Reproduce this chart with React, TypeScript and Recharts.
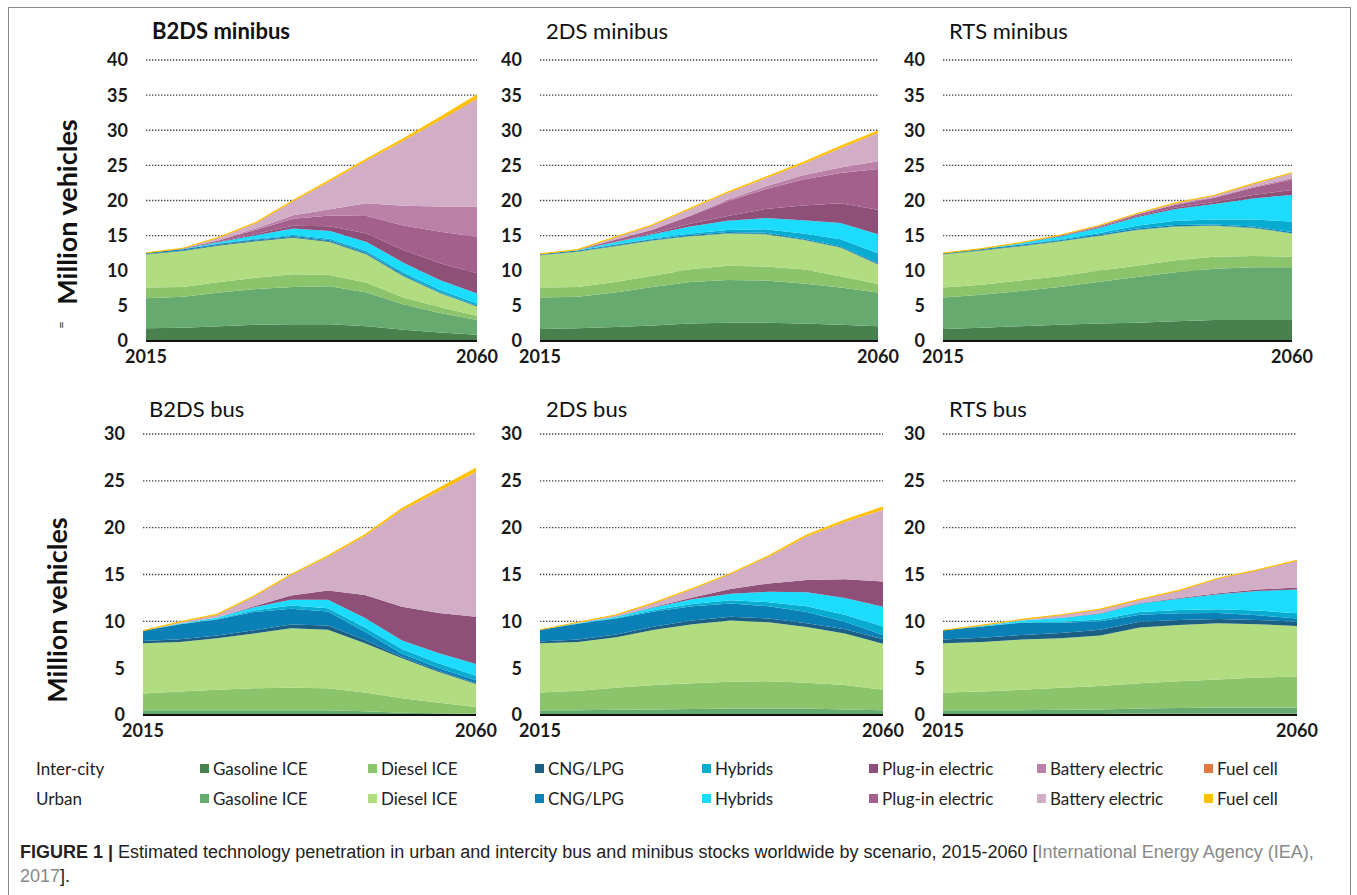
import { AreaChart, Area, XAxis, YAxis, CartesianGrid } from 'recharts';

const YEARS = [2015, 2020, 2025, 2030, 2035, 2040, 2045, 2050, 2055, 2060];

// stacking order, bottom to top: inter-city then urban for each technology
const SERIES_KEYS = [
  'icGas', 'uGas', 'icDiesel', 'uDiesel', 'icCng', 'uCng', 'icHyb', 'uHyb',
  'icPhev', 'uPhev', 'icBev', 'uBev', 'icFc', 'uFc',
];
const TECH_LABELS = ['Gasoline ICE', 'Diesel ICE', 'CNG/LPG', 'Hybrids', 'Plug-in electric', 'Battery electric', 'Fuel cell'];

// million vehicles, one row per series (same order as SERIES_KEYS)
const B2DS_MINIBUS = [
  [1.8, 1.9, 2.1, 2.3, 2.4, 2.4, 2.1, 1.6, 1.2, 0.9],
  [4.3, 4.4, 4.8, 5.1, 5.3, 5.4, 4.8, 3.6, 2.8, 2.1],
  [1.5, 1.4, 1.5, 1.6, 1.8, 1.6, 1.4, 1.0, 0.8, 0.6],
  [4.7, 5.1, 5.2, 5.2, 5.2, 4.7, 4.0, 3.0, 2.0, 1.3],
  [0.1, 0.1, 0.1, 0.1, 0.1, 0.1, 0.1, 0.1, 0.05, 0.05],
  [0.15, 0.15, 0.15, 0.15, 0.15, 0.15, 0.15, 0.15, 0.1, 0.1],
  [0, 0, 0.05, 0.1, 0.15, 0.2, 0.25, 0.3, 0.3, 0.3],
  [0, 0.05, 0.2, 0.5, 0.9, 1.1, 1.3, 1.4, 1.4, 1.4],
  [0, 0, 0.05, 0.2, 0.4, 0.7, 1.2, 1.8, 2.4, 2.9],
  [0, 0.05, 0.2, 0.6, 1.0, 1.5, 2.5, 3.5, 4.5, 5.2],
  [0, 0, 0.05, 0.2, 0.5, 0.9, 1.8, 2.8, 3.6, 4.3],
  [0, 0.05, 0.35, 0.75, 2.0, 4.0, 6.1, 9.25, 12.25, 15.25],
  [0, 0, 0, 0, 0, 0, 0, 0, 0.05, 0.1],
  [0, 0, 0.05, 0.1, 0.1, 0.15, 0.2, 0.3, 0.4, 0.5],
];

const DS2_MINIBUS = [
  [1.7, 1.8, 2.0, 2.2, 2.5, 2.6, 2.6, 2.5, 2.3, 2.1],
  [4.5, 4.5, 4.9, 5.5, 5.9, 6.1, 6.0, 5.7, 5.3, 4.8],
  [1.4, 1.4, 1.5, 1.6, 1.8, 2.0, 2.0, 2.0, 1.6, 1.2],
  [4.6, 5.0, 5.1, 5.0, 4.7, 4.6, 4.6, 4.2, 4.1, 2.8],
  [0.05, 0.05, 0.05, 0.05, 0.05, 0.05, 0.05, 0.05, 0.05, 0.05],
  [0.15, 0.15, 0.15, 0.15, 0.15, 0.15, 0.15, 0.15, 0.15, 0.15],
  [0, 0, 0.05, 0.1, 0.2, 0.3, 0.5, 0.7, 1.0, 1.4],
  [0, 0.05, 0.3, 0.6, 1.0, 1.3, 1.6, 1.9, 2.3, 2.7],
  [0, 0, 0.05, 0.15, 0.4, 0.7, 1.3, 2.1, 2.8, 3.5],
  [0, 0.05, 0.3, 0.5, 1.1, 2.1, 2.8, 3.7, 4.3, 5.8],
  [0, 0, 0, 0.05, 0.1, 0.2, 0.4, 0.6, 0.8, 1.1],
  [0, 0, 0.35, 0.6, 0.9, 1.0, 1.15, 1.6, 2.75, 4.0],
  [0, 0, 0, 0, 0, 0, 0, 0, 0, 0],
  [0, 0, 0.05, 0.05, 0.1, 0.1, 0.15, 0.2, 0.25, 0.3],
];

const RTS_MINIBUS = [
  [1.7, 1.9, 2.1, 2.3, 2.5, 2.6, 2.8, 3.0, 3.0, 3.0],
  [4.5, 4.7, 5.0, 5.4, 5.9, 6.5, 7.0, 7.3, 7.5, 7.5],
  [1.4, 1.4, 1.5, 1.5, 1.6, 1.6, 1.7, 1.7, 1.6, 1.5],
  [4.7, 4.9, 4.9, 4.95, 4.95, 5.1, 4.8, 4.4, 4.0, 3.3],
  [0.05, 0.05, 0.05, 0.05, 0.05, 0.05, 0.05, 0.05, 0.05, 0.05],
  [0.15, 0.15, 0.15, 0.15, 0.15, 0.15, 0.15, 0.15, 0.15, 0.15],
  [0, 0, 0.05, 0.1, 0.2, 0.4, 0.6, 0.7, 1.0, 1.5],
  [0, 0.05, 0.2, 0.4, 0.7, 1.2, 1.7, 2.2, 3.0, 3.8],
  [0, 0, 0, 0.05, 0.1, 0.15, 0.2, 0.3, 0.5, 0.7],
  [0, 0, 0.05, 0.1, 0.15, 0.25, 0.4, 0.6, 1.0, 1.5],
  [0, 0, 0, 0, 0.05, 0.05, 0.1, 0.1, 0.15, 0.2],
  [0, 0, 0, 0.05, 0.05, 0.1, 0.15, 0.25, 0.45, 0.7],
  [0, 0, 0, 0, 0, 0, 0, 0, 0, 0],
  [0, 0, 0, 0, 0, 0, 0, 0, 0, 0.05],
];

const B2DS_BUS = [
  [0.1, 0.1, 0.1, 0.1, 0.1, 0.1, 0.1, 0.05, 0.05, 0.05],
  [0.4, 0.4, 0.4, 0.4, 0.4, 0.4, 0.3, 0.2, 0.15, 0.1],
  [1.8, 2.0, 2.2, 2.35, 2.4, 2.35, 2.0, 1.55, 1.1, 0.7],
  [5.35, 5.3, 5.5, 5.85, 6.35, 6.25, 5.25, 4.25, 3.3, 2.45],
  [0.25, 0.3, 0.3, 0.35, 0.4, 0.45, 0.35, 0.15, 0.1, 0.1],
  [1.1, 1.6, 1.7, 1.95, 1.7, 1.5, 0.9, 0.35, 0.3, 0.3],
  [0, 0.02, 0.05, 0.15, 0.35, 0.35, 0.45, 0.5, 0.5, 0.5],
  [0, 0.05, 0.15, 0.35, 0.6, 0.9, 1.0, 0.9, 1.1, 1.25],
  [0, 0, 0.02, 0.1, 0.45, 1.0, 2.45, 3.6, 4.3, 5.05],
  [0, 0, 0, 0, 0, 0, 0, 0, 0, 0],
  [0, 0, 0, 0, 0, 0, 0, 0, 0, 0],
  [0, 0.15, 0.28, 1.05, 2.2, 3.6, 6.3, 10.3, 13.0, 15.45],
  [0, 0, 0, 0, 0, 0, 0, 0, 0, 0],
  [0, 0.03, 0.05, 0.05, 0.05, 0.1, 0.15, 0.2, 0.3, 0.4],
];

const DS2_BUS = [
  [0.1, 0.1, 0.1, 0.1, 0.1, 0.1, 0.1, 0.1, 0.1, 0.1],
  [0.4, 0.4, 0.45, 0.5, 0.55, 0.6, 0.6, 0.6, 0.5, 0.4],
  [1.9, 2.1, 2.35, 2.6, 2.75, 2.85, 2.9, 2.75, 2.6, 2.2],
  [5.25, 5.2, 5.4, 5.9, 6.3, 6.55, 6.3, 5.95, 5.5, 4.9],
  [0.2, 0.25, 0.3, 0.35, 0.4, 0.4, 0.4, 0.4, 0.45, 0.5],
  [1.25, 1.7, 1.7, 1.6, 1.5, 1.4, 1.3, 1.2, 0.8, 0.45],
  [0, 0.02, 0.05, 0.15, 0.25, 0.35, 0.45, 0.6, 0.75, 0.9],
  [0, 0.05, 0.15, 0.3, 0.5, 0.7, 1.1, 1.5, 1.8, 2.1],
  [0, 0, 0.02, 0.05, 0.2, 0.5, 0.9, 1.3, 2.0, 2.7],
  [0, 0, 0, 0, 0, 0, 0, 0, 0, 0],
  [0, 0, 0, 0, 0, 0, 0, 0, 0, 0],
  [0, 0.06, 0.15, 0.4, 0.9, 1.6, 2.85, 4.65, 6.1, 7.65],
  [0, 0, 0, 0, 0, 0, 0, 0, 0, 0],
  [0, 0.02, 0.03, 0.05, 0.05, 0.05, 0.1, 0.15, 0.2, 0.3],
];

const RTS_BUS = [
  [0.1, 0.1, 0.1, 0.1, 0.1, 0.15, 0.15, 0.15, 0.15, 0.15],
  [0.4, 0.4, 0.4, 0.45, 0.5, 0.55, 0.6, 0.65, 0.65, 0.65],
  [1.9, 2.0, 2.2, 2.35, 2.5, 2.7, 2.85, 3.0, 3.2, 3.3],
  [5.25, 5.3, 5.35, 5.3, 5.4, 5.95, 6.0, 6.0, 5.7, 5.4],
  [0.4, 0.45, 0.5, 0.55, 0.6, 0.6, 0.55, 0.45, 0.45, 0.45],
  [1.0, 1.2, 1.3, 1.1, 0.9, 0.75, 0.7, 0.65, 0.5, 0.35],
  [0, 0.02, 0.05, 0.1, 0.2, 0.3, 0.35, 0.4, 0.5, 0.55],
  [0, 0.05, 0.2, 0.4, 0.6, 0.9, 1.2, 1.6, 2.1, 2.55],
  [0, 0, 0, 0.02, 0.05, 0.05, 0.1, 0.1, 0.15, 0.2],
  [0, 0, 0, 0, 0, 0, 0, 0, 0, 0],
  [0, 0, 0, 0, 0, 0, 0, 0, 0, 0],
  [0, 0.08, 0.1, 0.33, 0.45, 0.4, 0.8, 1.6, 2.1, 2.9],
  [0, 0, 0, 0, 0, 0, 0, 0, 0, 0],
  [0, 0, 0, 0, 0, 0, 0, 0, 0, 0],
];

const MINIBUS_TICKS = [0, 5, 10, 15, 20, 25, 30, 35, 40];
const BUS_TICKS = [0, 5, 10, 15, 20, 25, 30];

const COLORS = [
  '#48804e', '#66aa6f', '#8bc46a', '#b1dc80', '#1b5f85', '#0b80b6', '#07acd0', '#1cdcfd',
  '#8e4f79', '#a4608c', '#bb80a8', '#d1adc6', '#e07a40', '#ffc000',
];

const FONT = 'Lato, "Open Sans", sans-serif';

const buildRows = (values: number[][]) =>
  YEARS.map((year, i) => {
    const row: Record<string, number> = { year };
    SERIES_KEYS.forEach((k, s) => {
      row[k] = values[s][i];
    });
    return row;
  });

type PanelProps = {
  title: string;
  bold?: boolean;
  values: number[][];
  ticks: number[];
  plotLeft: number;
  plotRight: number;
  plotTop: number;
  plotBottom: number;
};

const Y_W = 60;
const M_TOP = 14;
const M_RIGHT = 30;
const X_H = 34;

const Panel = ({ title, bold, values, ticks, plotLeft, plotRight, plotTop, plotBottom }: PanelProps) => {
  const left = plotLeft - Y_W;
  const top = plotTop - M_TOP;
  const width = plotRight - left + M_RIGHT;
  const height = plotBottom - top + X_H;
  const tickStyle = { fontFamily: FONT, fontSize: 18, fontWeight: 700, fill: '#1a1a1a' };
  return (
    <>
      <div
        style={{
          position: 'absolute',
          left: plotLeft + 6,
          top: plotTop - (ticks.length === 9 ? 43 : 39),
          fontFamily: FONT,
          fontSize: 22,
          fontWeight: bold ? 700 : 400,
          color: '#111',
          whiteSpace: 'nowrap',
        }}
      >
        {title}
      </div>
      <div style={{ position: 'absolute', left, top }}>
        <AreaChart width={width} height={height} data={buildRows(values)} margin={{ top: M_TOP, right: M_RIGHT, bottom: 0, left: 0 }}>
          <CartesianGrid vertical={false} stroke="#444" strokeWidth={1.3} strokeDasharray="1.4 1.6" />
          <XAxis
            dataKey="year"
            type="number"
            domain={[2015, 2060]}
            ticks={[2015, 2060]}
            interval={0}
            height={X_H}
            tickSize={0}
            tickMargin={9}
            tickLine={false}
            axisLine={{ stroke: '#111', strokeWidth: 2 }}
            tick={tickStyle}
          />
          <YAxis
            width={Y_W}
            domain={[0, ticks[ticks.length - 1]]}
            ticks={ticks}
            interval={0}
            tickSize={0}
            tickMargin={18}
            tickLine={false}
            axisLine={false}
            tick={tickStyle}
          />
          {SERIES_KEYS.map((k, i) => (
            <Area
              key={k}
              type="linear"
              dataKey={k}
              stackId="a"
              fill={COLORS[i]}
              fillOpacity={1}
              stroke={k === 'uFc' ? COLORS[i] : 'none'}
              strokeWidth={k === 'uFc' ? 1.2 : 0}
              dot={false}
              activeDot={false}
              isAnimationActive={false}
            />
          ))}
        </AreaChart>
      </div>
    </>
  );
};

const YLabel = ({ x, y }: { x: number; y: number }) => (
  <div
    style={{
      position: 'absolute',
      left: x,
      top: y,
      transform: 'translate(-50%, -50%) rotate(-90deg)',
      fontFamily: FONT,
      fontSize: 27,
      fontWeight: 700,
      color: '#111',
      whiteSpace: 'nowrap',
    }}
  >
    Million vehicles
  </div>
);

const LEGEND_X = [200, 368, 535, 702, 869, 1037, 1204];

const LegendRow = ({ label, y, offset }: { label: string; y: number; offset: number }) => (
  <>
    <div style={{ position: 'absolute', left: 36, top: y - 11, fontFamily: FONT, fontSize: 17, color: '#222' }}>{label}</div>
    {TECH_LABELS.map((t, i) => (
      <div key={t} style={{ position: 'absolute', left: LEGEND_X[i], top: y - 11, display: 'flex', alignItems: 'center', fontFamily: FONT, fontSize: 17, color: '#222', whiteSpace: 'nowrap' }}>
        <span style={{ width: 9, height: 9, background: COLORS[i * 2 + offset], marginRight: 4, display: 'inline-block' }} />
        {t}
      </div>
    ))}
  </>
);

export default function App() {
  return (
    <div style={{ position: 'absolute', left: 0, top: 0, width: 1357, height: 895, background: '#fff', overflow: 'hidden' }}>
      <div style={{ position: 'absolute', left: 8, top: 7, width: 1341, height: 900, border: '1px solid #8a8a8a' }} />

      <Panel title="B2DS minibus" bold values={B2DS_MINIBUS} ticks={MINIBUS_TICKS} plotLeft={146} plotRight={477} plotTop={60} plotBottom={341} />
      <Panel title="2DS minibus" values={DS2_MINIBUS} ticks={MINIBUS_TICKS} plotLeft={540} plotRight={878} plotTop={60} plotBottom={341} />
      <Panel title="RTS minibus" values={RTS_MINIBUS} ticks={MINIBUS_TICKS} plotLeft={943} plotRight={1292} plotTop={60} plotBottom={341} />
      <Panel title="B2DS bus" values={B2DS_BUS} ticks={BUS_TICKS} plotLeft={143} plotRight={476} plotTop={434} plotBottom={715} />
      <Panel title="2DS bus" values={DS2_BUS} ticks={BUS_TICKS} plotLeft={540} plotRight={883} plotTop={434} plotBottom={715} />
      <Panel title="RTS bus" values={RTS_BUS} ticks={BUS_TICKS} plotLeft={943} plotRight={1297} plotTop={434} plotBottom={715} />

      <YLabel x={66} y={212} />
      <div style={{ position: 'absolute', left: 61, top: 325, transform: 'translate(-50%, -50%) rotate(-90deg)', fontFamily: FONT, fontSize: 13, color: '#333' }}>=</div>
      <YLabel x={56} y={610} />

      <LegendRow label="Inter-city" y={769} offset={0} />
      <LegendRow label="Urban" y={799} offset={1} />

      <div style={{ position: 'absolute', left: 20, top: 840, fontFamily: '"Liberation Sans", Arial, sans-serif', fontSize: 18, lineHeight: '24px', color: '#222', whiteSpace: 'nowrap' }}>
        <b>FIGURE 1 |</b> Estimated technology penetration in urban and intercity bus and minibus stocks worldwide by scenario, 2015-2060 [
        <span style={{ color: '#888' }}>International Energy Agency (IEA),</span>
        <br />
        <span style={{ color: '#888' }}>2017</span>].
      </div>
    </div>
  );
}
